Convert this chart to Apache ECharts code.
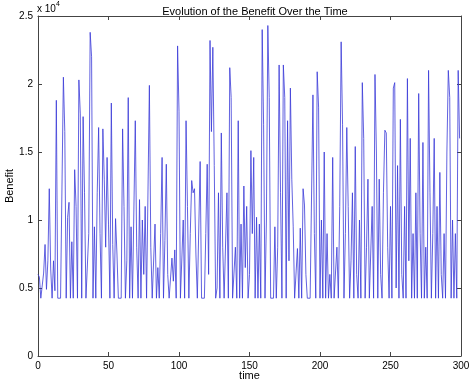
<!DOCTYPE html>
<html><head><meta charset="utf-8">
<script src="https://cdn.jsdelivr.net/npm/echarts@6/dist/echarts.min.js"></script>
<style>html,body{margin:0;padding:0;background:#fff}#c{width:470px;height:381px}</style>
</head><body><div id="c"></div>
<script>
const titleText = 'Evolution of the Benefit Over the Time';
const xName = 'time';
const yName = 'Benefit';
const xTicks = [0, 50, 100, 150, 200, 250, 300];
const yTickLabels = ['0', '0.5', '1', '1.5', '2', '2.5'];
const benefit = [
 6000,5800,4250,4250,6100,8200,4900,7000,12300,6400,
 4250,7000,4800,18800,4250,4250,4250,4250,20500,16500,
 4250,10200,11300,4250,8400,4250,13700,11000,4250,20300,
 17800,4250,17600,12000,4250,4250,9000,23800,22000,4250,
 9500,4250,12000,16800,9000,4250,16700,13000,8000,14600,
 9700,4250,18600,8200,4250,10100,7500,4250,4250,4250,
 16700,11000,4250,7000,19000,4250,9500,4250,4250,17300,
 8000,4250,11500,4250,10000,6000,11000,4250,4250,19900,
 8000,4250,4250,9700,4250,6500,4250,9000,14600,4250,
 8500,14100,6000,4250,4250,7200,5500,7800,4250,22800,
 18000,4250,4250,10000,4250,17300,11000,4250,9000,12900,
 12000,12300,7500,4250,4250,14300,4250,4250,4250,9000,
 14100,6000,23200,16500,22700,14000,4250,5000,12000,4250,
 16400,8000,4250,4250,12000,4250,21200,19000,4250,4250,
 8000,4250,17300,4250,9700,4250,12500,6500,11000,4250,
 6000,15100,9000,14600,4250,10200,4250,9700,4250,24000,
 17000,4250,10000,24300,19000,4250,4250,4250,9500,4250,
 8000,21400,12000,4250,21400,19000,4250,17300,7000,19700,
 13000,9500,4250,4250,7900,4250,9400,4250,12300,11100,
 6000,4250,4250,4250,4250,19200,9000,4250,20900,18300,
 4250,10000,4250,15000,4250,9000,4250,6000,4250,14600,
 4250,4250,8000,4250,11000,23100,17000,4250,9000,16800,
 11000,4250,7000,12000,4250,15400,6000,4250,10000,4250,
 20100,16000,4250,8000,13000,4250,4250,11000,4250,20700,
 15000,4250,13000,6000,4250,12000,16600,16400,8000,4250,
 11000,4250,19700,20100,5000,14000,4250,17400,6000,4250,
 11000,4250,20400,7000,16000,4250,9000,4250,12000,4250,
 19300,9000,4250,15700,4250,8000,4250,21000,12000,4250,
 9000,16000,4250,11000,4250,13500,6000,4250,9000,4250,
 15000,21000,19000,4250,10000,4250,9000,4250,21000,16000
];

const chart = echarts.init(document.getElementById('c'), null, {renderer: 'canvas'});
const font = 'Liberation Sans, Arial, sans-serif';
const axisColor = '#444';
const common = {
  axisLine: {show: true, onZero: false, lineStyle: {color: axisColor, width: 1}},
  splitLine: {show: false}
};
chart.setOption({
  animation: false,
  backgroundColor: '#fff',
  title: {text: titleText, left: 250, top: 1, textAlign: 'center',
    textStyle: {fontFamily: font, fontSize: 11, fontWeight: 'normal', color: '#000'}},
  grid: {left: 38, right: 9, top: 16, bottom: 25, containLabel: false, outerBoundsMode: 'none'},
  xAxis: [
    Object.assign({type: 'value', min: 0, max: 300, interval: 50, position: 'bottom',
      name: xName, nameLocation: 'middle', nameGap: 20, nameMoveOverlap: false,
      nameTextStyle: {fontFamily: font, fontSize: 11, color: '#000', verticalAlign: 'middle'},
      axisTick: {show: true, inside: true, length: 4, lineStyle: {color: axisColor}},
      axisLabel: {fontFamily: font, fontSize: 10, color: '#000', margin: 5}}, common),
    Object.assign({type: 'value', min: 0, max: 300, interval: 50, position: 'top',
      axisTick: {show: true, inside: true, length: 4, lineStyle: {color: axisColor}},
      axisLabel: {show: false}}, common)
  ],
  yAxis: [
    Object.assign({type: 'value', min: 0, max: 25000, interval: 5000, position: 'left',
      name: yName, nameLocation: 'middle', nameGap: 28, nameRotate: 90, nameMoveOverlap: false,
      nameTextStyle: {fontFamily: font, fontSize: 11, color: '#000', verticalAlign: 'middle'},
      axisTick: {show: true, inside: true, length: 4, lineStyle: {color: axisColor}},
      axisLabel: {fontFamily: font, fontSize: 10, color: '#000', margin: 5,
        formatter: (v) => yTickLabels[Math.round(v / 5000)]}}, common),
    Object.assign({type: 'value', min: 0, max: 25000, interval: 5000, position: 'right',
      axisTick: {show: true, inside: true, length: 4, lineStyle: {color: axisColor}},
      axisLabel: {show: false}}, common)
  ],
  graphic: [{
    type: 'text', left: 37, top: 1,
    style: {
      text: '{a|x 10}{b|4}',
      rich: {
        a: {fontFamily: font, fontSize: 10, fill: '#000', verticalAlign: 'bottom'},
        b: {fontFamily: font, fontSize: 7, fill: '#000', verticalAlign: 'top', padding: [0, 0, 6, 0]}
      }
    }
  }],
  series: [{
    type: 'line', xAxisIndex: 0, yAxisIndex: 0,
    data: benefit.map((v, i) => [i, v]),
    showSymbol: false, symbol: 'none',
    lineStyle: {color: '#3a3ad8', width: 0.8},
    silent: true
  }]
});
</script></body></html>
